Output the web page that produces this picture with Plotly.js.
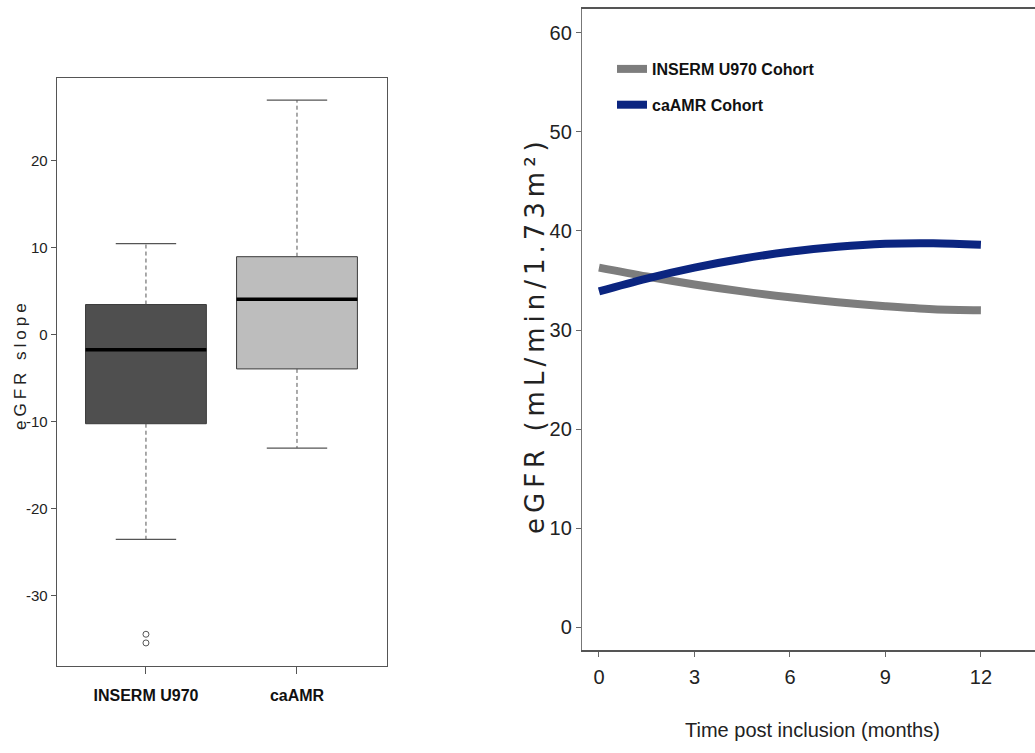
<!DOCTYPE html>
<html>
<head>
<meta charset="utf-8">
<script src="https://cdn.plot.ly/plotly-3.0.1.min.js"></script>
<style>
  html, body { margin: 0; padding: 0; background: #fff; }
  #chart { width: 1035px; height: 753px; }
</style>
</head>
<body>
<div id="chart"></div>
<script>
// ---- Left panel: eGFR slope box plot (summary statistics) ----
const categories = ['INSERM U970', 'caAMR'];
const q1Values = [-10.2, -3.9];
const medianValues = [-1.7, 4.1];
const q3Values = [3.5, 9.0];
const lowerWhisker = [-23.5, -13.0];
const upperWhisker = [10.5, 27.0];
const insermOutliers = [-34.4, -35.4];
const boxFills = ['#4f4f4f', '#bdbdbd'];
const slopeTicks = [-30, -20, -10, 0, 10, 20];
const slopeTickText = ['-30', '-20', '-10', '0', '10', '20'];

// ---- Right panel: eGFR trajectories ----
const months = [0, 1.5, 3, 4.5, 6, 7.5, 9, 10.5, 12];
const insermEgfr = [36.3, 35.4, 34.6, 33.9, 33.3, 32.8, 32.4, 32.1, 32.0];
const caamrEgfr = [33.9, 35.2, 36.3, 37.2, 37.9, 38.4, 38.7, 38.75, 38.6];
const monthTicks = [0, 3, 6, 9, 12];
const egfrTicks = [0, 10, 20, 30, 40, 50, 60];
const seriesNames = ['INSERM U970 Cohort', 'caAMR Cohort'];
const seriesColors = ['#7d7d7d', '#0b2580'];

const arial = '"Liberation Sans", Arial, sans-serif';
const wide = '"DejaVu Sans", sans-serif';

const traces = [];
const boxHalf = 0.4, capHalf = 0.2;

categories.forEach((cat, i) => {
  traces.push({
    type: 'box', x: [i], q1: [q1Values[i]], median: [medianValues[i]], q3: [q3Values[i]],
    lowerfence: [q1Values[i]], upperfence: [q3Values[i]],
    width: 2 * boxHalf, whiskerwidth: 0, boxpoints: false,
    fillcolor: boxFills[i], line: { color: '#3a3a3a', width: 1 },
    xaxis: 'x', yaxis: 'y', showlegend: false, hoverinfo: 'skip', name: cat
  });
  traces.push({
    type: 'scatter', mode: 'lines', xaxis: 'x', yaxis: 'y', showlegend: false, hoverinfo: 'skip',
    x: [i, i, null, i, i],
    y: [q3Values[i], upperWhisker[i], null, q1Values[i], lowerWhisker[i]],
    line: { color: '#555', width: 1, dash: '4px,3px' }
  });
  traces.push({
    type: 'scatter', mode: 'lines', xaxis: 'x', yaxis: 'y', showlegend: false, hoverinfo: 'skip',
    x: [i - capHalf, i + capHalf, null, i - capHalf, i + capHalf],
    y: [upperWhisker[i], upperWhisker[i], null, lowerWhisker[i], lowerWhisker[i]],
    line: { color: '#555', width: 1.3 }
  });
  traces.push({
    type: 'scatter', mode: 'lines', xaxis: 'x', yaxis: 'y', showlegend: false, hoverinfo: 'skip',
    x: [i - boxHalf, i + boxHalf], y: [medianValues[i], medianValues[i]],
    line: { color: '#000', width: 3.5 }
  });
});

traces.push({
  type: 'scatter', mode: 'markers', xaxis: 'x', yaxis: 'y', showlegend: false, hoverinfo: 'skip',
  x: insermOutliers.map(() => 0), y: insermOutliers,
  marker: { symbol: 'circle-open', size: 6, color: '#555', line: { width: 1 } }
});

[insermEgfr, caamrEgfr].forEach((vals, k) => {
  traces.push({
    type: 'scatter', mode: 'lines', xaxis: 'x2', yaxis: 'y2',
    name: seriesNames[k], legendgroup: 'g' + k,
    x: months, y: vals,
    line: { color: seriesColors[k], width: 8, shape: 'spline' }
  });
});

const W = 1035, H = 753;
const px = v => v / W, py = v => 1 - v / H;

const layout = {
  width: W, height: H,
  margin: { l: 0, r: 0, t: 0, b: 0, pad: 0 },
  paper_bgcolor: '#fff', plot_bgcolor: '#fff',
  showlegend: true,
  legend: {
    x: px(612), y: py(52), xanchor: 'left', yanchor: 'top',
    bgcolor: 'rgba(0,0,0,0)', borderwidth: 0,
    font: { family: arial, size: 16, weight: 'bold', color: '#111' },
    itemwidth: 30, tracegroupgap: 12
  },
  xaxis: {
    domain: [px(57), px(387)], range: [-0.589, 1.596], anchor: 'y',
    tickvals: [0, 1], ticktext: categories,
    ticks: 'outside', ticklen: 7, tickcolor: '#555', tickwidth: 1,
    showline: true, mirror: true, linecolor: '#555', linewidth: 1.3,
    showgrid: false, zeroline: false, automargin: false,
    tickfont: { family: arial, size: 16, weight: 'bold', color: '#111' },
    ticklabelstandoff: 7
  },
  yaxis: {
    domain: [1 - 666 / H, 1 - 78 / H], range: [-38.05, 29.54], anchor: 'x',
    tickvals: slopeTicks, ticktext: slopeTickText,
    ticks: 'outside', ticklen: 5, tickcolor: '#555', tickwidth: 1,
    showline: true, mirror: true, linecolor: '#555', linewidth: 1.3,
    showgrid: false, zeroline: false, automargin: false,
    tickfont: { family: arial, size: 15, color: '#222' }
  },
  xaxis2: {
    domain: [px(582), 1], range: [-0.534, 13.70], anchor: 'y2',
    tickvals: monthTicks,
    ticks: 'outside', ticklen: 5, tickcolor: '#666', tickwidth: 1,
    showline: true, mirror: true, linecolor: '#555', linewidth: 1.6,
    showgrid: false, zeroline: false, automargin: false,
    tickfont: { family: arial, size: 20, color: '#222' },
    ticklabelstandoff: 3
  },
  yaxis2: {
    domain: [1 - 650 / H, 1 - 9 / H], range: [-2.32, 62.42], anchor: 'x2',
    tickvals: egfrTicks,
    ticks: 'outside', ticklen: 5, tickcolor: '#666', tickwidth: 1,
    showline: true, linecolor: '#777', linewidth: 1.2,
    showgrid: false, zeroline: false, automargin: false,
    tickfont: { family: arial, size: 20, color: '#222' }
  },
  annotations: [
    {
      xref: 'paper', yref: 'paper', x: px(20), y: py(365), xanchor: 'center', yanchor: 'middle',
      textangle: -90, showarrow: false,
      text: '<span style="letter-spacing:4px">eGFR slope</span>',
      font: { family: arial, size: 17, color: '#222' }
    },
    {
      xref: 'paper', yref: 'paper', x: px(535), y: py(335), xanchor: 'center', yanchor: 'middle',
      textangle: -90, showarrow: false,
      text: '<span style="letter-spacing:5px">eGFR (mL/min/1.73m²)</span>',
      font: { family: wide, size: 26, color: '#222' }
    },
    {
      xref: 'paper', yref: 'paper', x: px(812), y: py(730), xanchor: 'center', yanchor: 'middle',
      showarrow: false,
      text: 'Time post inclusion (months)',
      font: { family: arial, size: 20, color: '#222' }
    }
  ]
};

Plotly.newPlot('chart', traces, layout, { displayModeBar: false, staticPlot: true });
</script>
</body>
</html>
